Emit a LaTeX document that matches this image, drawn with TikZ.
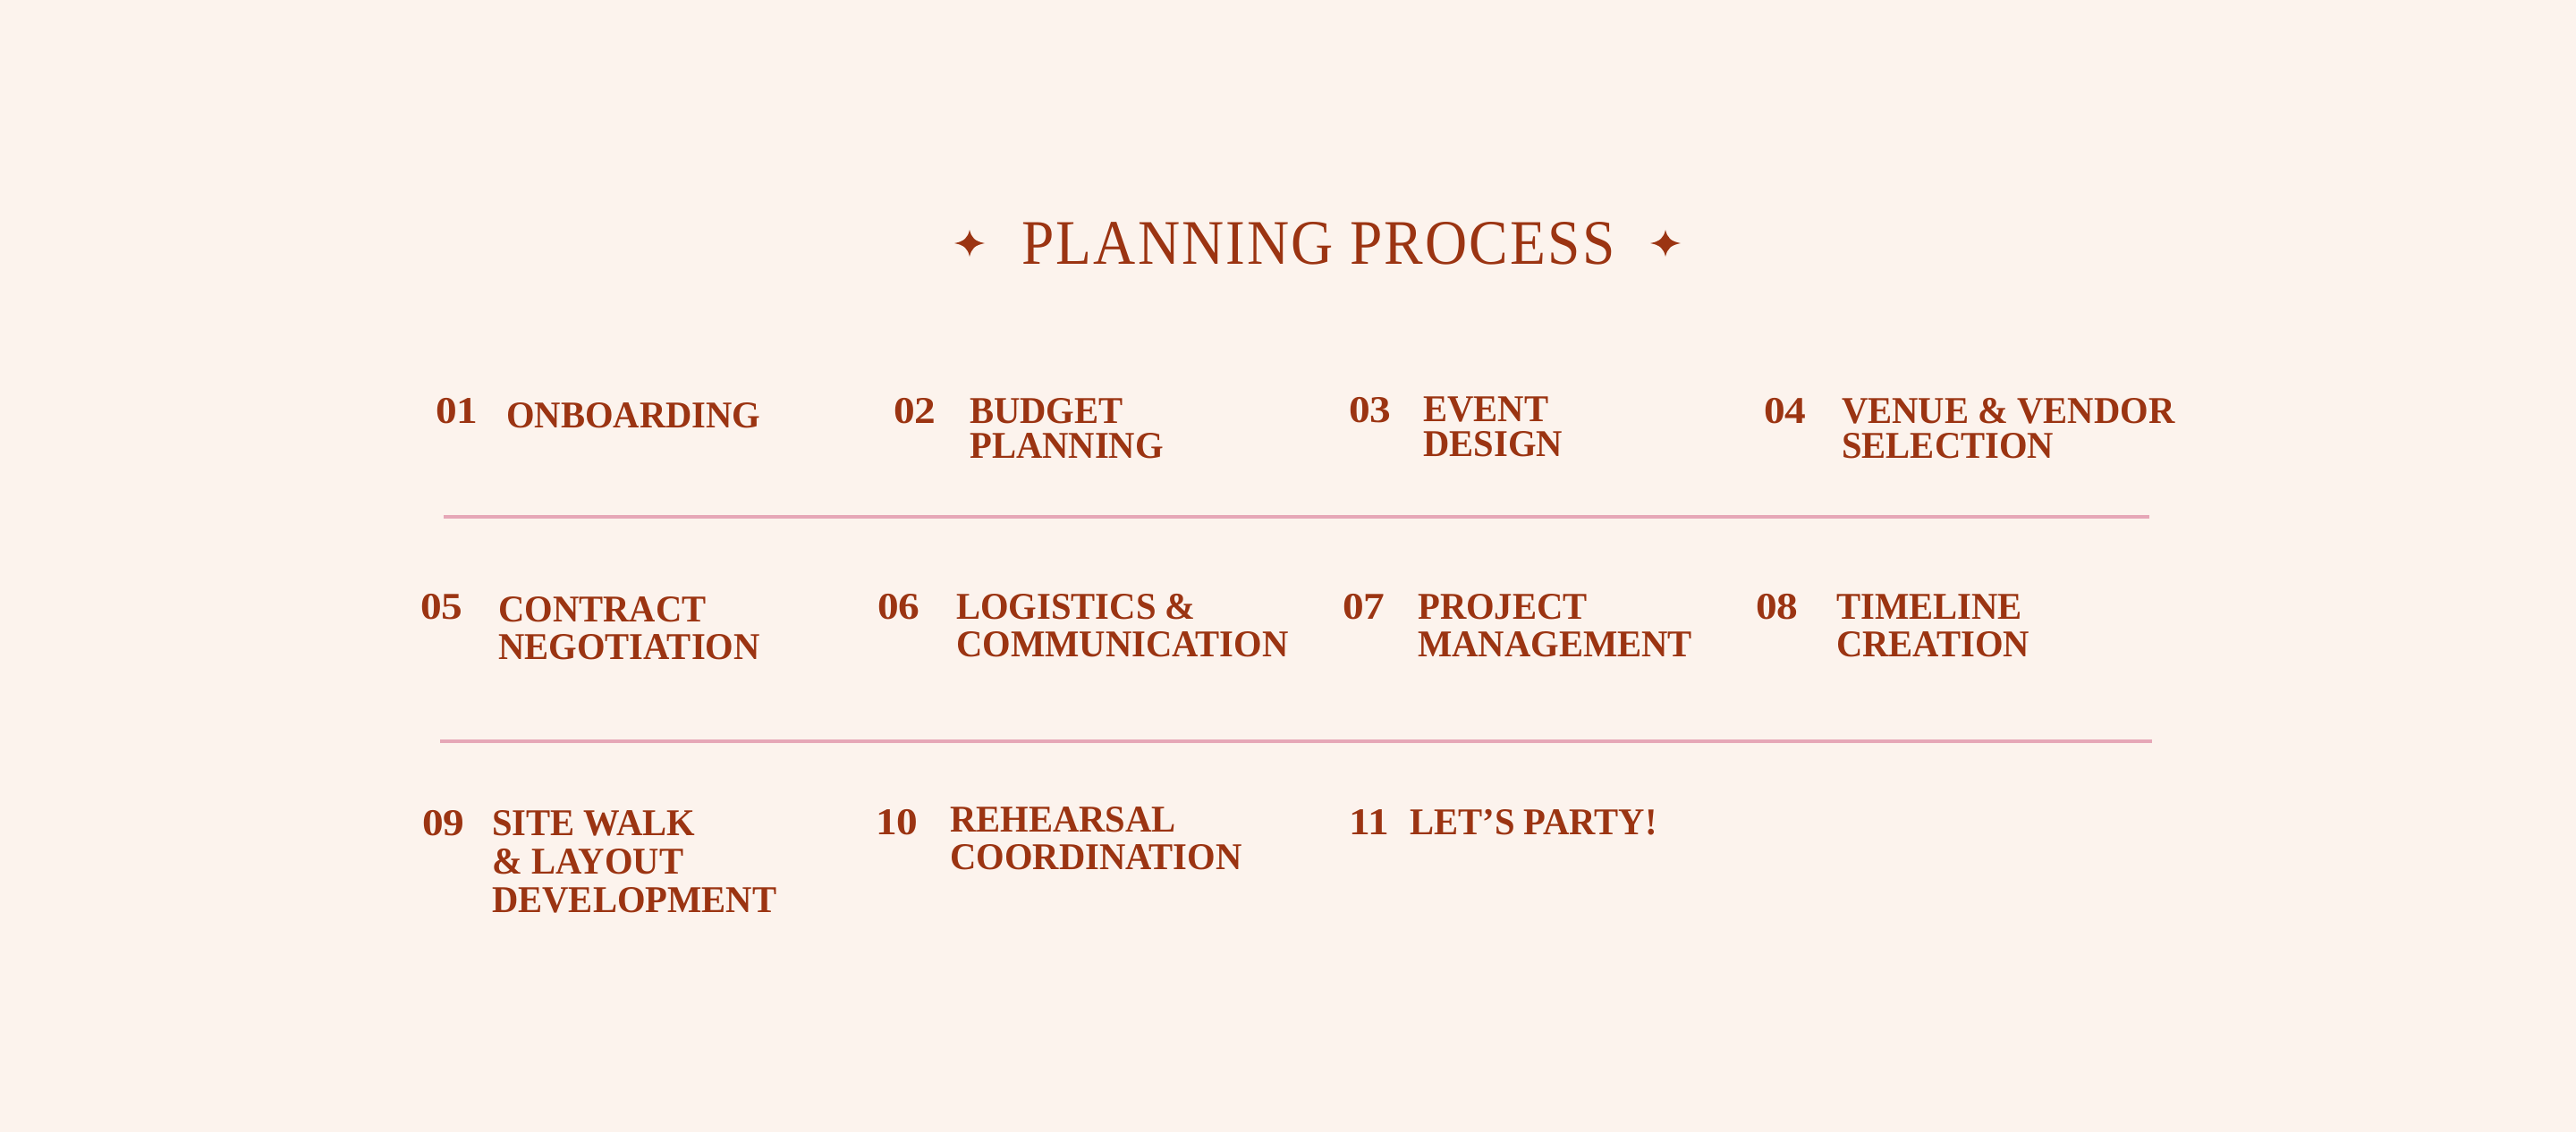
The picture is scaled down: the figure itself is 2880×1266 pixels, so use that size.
\documentclass[tikz,border=0pt]{standalone}
\usepackage{fontspec}
\newfontfamily\itemfont{Liberation Serif}[FakeStretch=0.96]
\newfontfamily\numfont{Liberation Serif}[FakeStretch=1.12]
\newfontfamily\titlefont{Liberation Serif}[FakeStretch=0.92,LetterSpace=3]
\definecolor{rust}{RGB}{155,52,18}
\definecolor{bgc}{RGB}{252,243,237}
\definecolor{pinkline}{RGB}{230,167,183}
\newcommand\stack[1]{\vtop{\lineskiplimit=-1000pt\lineskip=0pt\halign{##\hfil\cr#1\crcr}}}
\begin{document}
\begin{tikzpicture}[x=1pt,y=-1pt,
  num/.style={anchor=base west, inner sep=0pt, text=rust, font=\numfont\bfseries\fontsize{42.3}{40}\selectfont},
  lbl/.style={anchor=base west, inner sep=0pt, text=rust, font=\itemfont\bfseries\fontsize{42.3}{#1}\selectfont},
  lbl/.default=41,
  rulestyle/.style={line width=4pt, draw=pinkline},
  sparkle/.style={fill=rust}]
\fill[bgc] (0,0) rectangle (2880,1266);
\useasboundingbox (0,0) rectangle (2880,1266);

% title
\node[anchor=base, inner sep=0pt, text=rust, font=\titlefont\fontsize{71}{71}\selectfont] (title) at (1474,295) {PLANNING PROCESS};
\coordinate (starL) at (1084,272);
\coordinate (starR) at (1862,272);
\foreach \s in {starL,starR}{
  \begin{scope}[shift={(\s)}]
    \fill[sparkle] (0,-15) .. controls (2,-6) and (6,-2) .. (17,0)
      .. controls (6,2) and (2,6) .. (0,15)
      .. controls (-2,6) and (-6,2) .. (-17,0)
      .. controls (-6,-2) and (-2,-6) .. (0,-15) -- cycle;
  \end{scope}
}

% row 1
\node[num] (n01) at (487,473) {01};
\node[lbl] (t01) at (566,478) {ONBOARDING};
\node[num] (n02) at (999,473) {02};
\node[lbl=39] (t02) at (1084,473) {\stack{BUDGET\cr PLANNING}};
\node[num] (n03) at (1508,472) {03};
\node[lbl=39] (t03) at (1591,471) {\stack{EVENT\cr DESIGN}};
\node[num] (n04) at (1972,473) {04};
\node[lbl=39] (t04) at (2059,473) {\stack{VENUE \& VENDOR\cr SELECTION}};

% rule 1
\coordinate (r1a) at (496,578);
\coordinate (r1b) at (2403,578);
\draw[rulestyle] (r1a) -- (r1b);

% row 2
\node[num] (n05) at (470,692) {05};
\node[lbl=42] (t05) at (557,695) {\stack{CONTRACT\cr NEGOTIATION}};
\node[num] (n06) at (981,692) {06};
\node[lbl=42] (t06) at (1069,692) {\stack{LOGISTICS \&\cr COMMUNICATION}};
\node[num] (n07) at (1501,692) {07};
\node[lbl=42] (t07) at (1585,692) {\stack{PROJECT\cr MANAGEMENT}};
\node[num] (n08) at (1963,692) {08};
\node[lbl=42] (t08) at (2053,692) {\stack{TIMELINE\cr CREATION}};

% rule 2
\coordinate (r2a) at (492,829);
\coordinate (r2b) at (2406,829);
\draw[rulestyle] (r2a) -- (r2b);

% row 3
\node[num] (n09) at (472,934) {09};
\node[lbl=43] (t09) at (550,934) {\stack{SITE WALK\cr \& LAYOUT\cr DEVELOPMENT}};
\node[num] (n10) at (979,933) {10};
\node[lbl=42] (t10) at (1062,930) {\stack{REHEARSAL\cr COORDINATION}};
\node[num] (n11) at (1508,933) {11};
\node[lbl] (t11) at (1576,933) {LET’S PARTY!};
\end{tikzpicture}
\end{document}
